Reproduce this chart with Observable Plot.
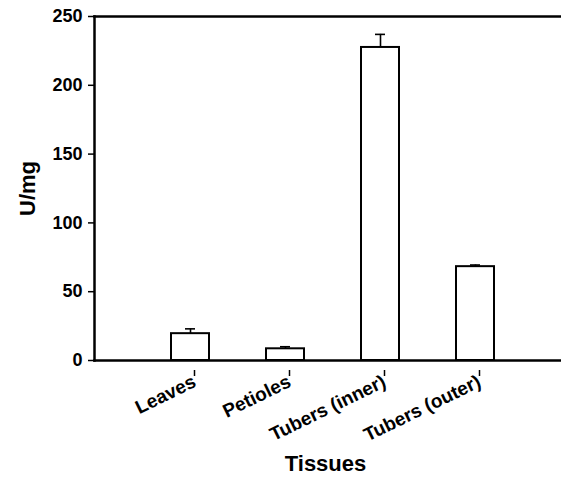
<!DOCTYPE html>
<html>
<head>
<meta charset="utf-8">
<script src="https://cdn.jsdelivr.net/npm/d3@7"></script>
<script src="https://cdn.jsdelivr.net/npm/@observablehq/plot@0.6"></script>
<style>
  html, body { margin: 0; padding: 0; background: #fff; overflow: hidden; }
  svg { font-family: "Liberation Sans", Arial, sans-serif; }
</style>
</head>
<body>
<div id="chart"></div>
<script>
const categories = ["Leaves", "Petioles", "Tubers (inner)", "Tubers (outer)"];
const values = [19.5, 8.5, 227.5, 68.2];
const errors = [3.5, 1.5, 9.5, 1.2];
const yTicks = [0, 50, 100, 150, 200, 250];

const data = categories.map((c, i) => ({tissue: c, value: values[i], top: values[i] + errors[i]}));

const W = 561, H = 486, mL = 94, mT = 16, mB = 126;
const step = (W - mL + 9.5) / 5;

const chart = Plot.plot({
  width: W,
  height: H,
  marginLeft: mL,
  marginRight: 0,
  marginTop: mT,
  marginBottom: mB,
  style: {fontFamily: "'Liberation Sans', Arial, sans-serif", background: "white", overflow: "visible"},
  x: {domain: categories, range: [mL, mL + 5 * step], paddingInner: 0.6, paddingOuter: 0.8, align: 0.5},
  y: {domain: [0, 250]},
  marks: [
    Plot.barY(data, {x: "tissue", y: "value", fill: "white", stroke: "black", strokeWidth: 2}),
    Plot.ruleX(data, {x: "tissue", y1: "value", y2: "top", stroke: "black", strokeWidth: 1.6}),
    Plot.tickY(data, {x: "tissue", y: "top", stroke: "black", strokeWidth: 1.6, insetLeft: 14, insetRight: 14}),
    Plot.frame({anchor: "left", stroke: "black", strokeWidth: 2.5}),
    Plot.frame({anchor: "top", stroke: "black", strokeWidth: 2.5}),
    Plot.frame({anchor: "bottom", stroke: "black", strokeWidth: 2.5}),
    Plot.axisY({ticks: yTicks, tickSize: 6, tickPadding: 6, fontSize: 18, fontWeight: "bold", strokeWidth: 1.5, label: null}),
    Plot.axisX({tickSize: 6, tickPadding: 4, tickRotate: -26, fontSize: 19, fontWeight: "bold", strokeWidth: 1.5, label: null, dx: 4, dy: 10}),
    Plot.text(["U/mg"], {frameAnchor: "left", textAnchor: "middle", dx: -67, rotate: -90, fontSize: 22, fontWeight: "bold", fill: "black"}),
    Plot.text(["Tissues"], {frameAnchor: "bottom", x: () => categories[1], dx: 40, dy: 110, fontSize: 22, fontWeight: "bold", fill: "black"})
  ]
});
document.getElementById("chart").appendChild(chart);
</script>
</body>
</html>
